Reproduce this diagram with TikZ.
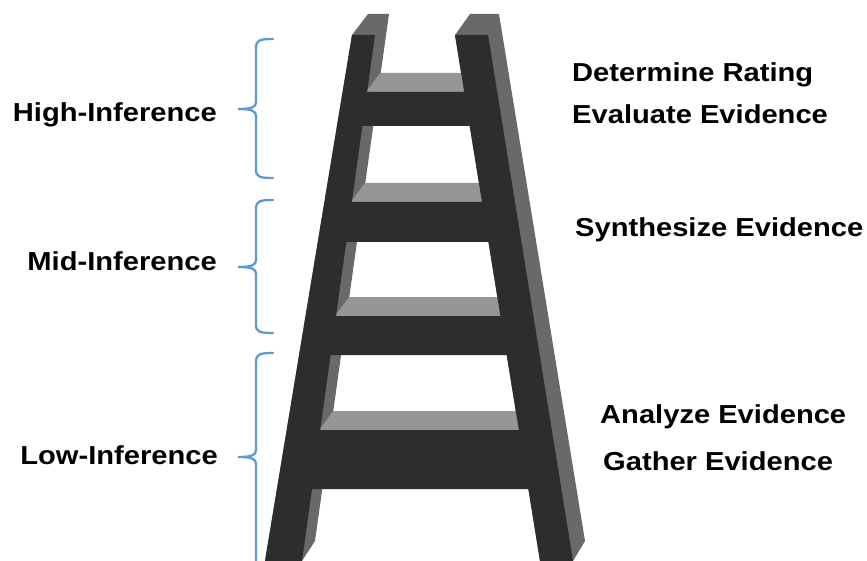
\documentclass[tikz,border=0pt]{standalone}
\usepackage{fontspec}
\newfontfamily\stepfont{Liberation Sans}[FakeStretch=1.12]
\usepackage{tikz}
\usetikzlibrary{positioning}

\definecolor{ladderfront}{RGB}{45,45,45}
\definecolor{railside}{RGB}{105,105,105}
\definecolor{rungtop}{RGB}{150,150,150}
\definecolor{bracecol}{RGB}{91,155,213}

\tikzset{
    ladder/.style = {fill=ladderfront},
    sideface/.style = {fill=railside},
    topface/.style = {fill=rungtop},
    infbrace/.style = {draw=bracecol, line width=2.3pt, line cap=round},
    level/.style = {inner sep=0pt, font=\stepfont\bfseries\fontsize{26}{30}\selectfont},
}

\begin{document}
\begin{tikzpicture} [x=1pt, y=-1pt]
    \useasboundingbox (0,0) rectangle (867,561);
    \clip (0,0) rectangle (867,561);

    % sides of the rails
    \fill [sideface] (352,35) -- (368,14) -- (389,14) -- (315,541) -- (302,561) -- (265,561) -- cycle;
    \fill [sideface] (455,35) -- (470,14) -- (499,14) -- (585,541) -- (573,561) -- (540,561) -- cycle;

    % tops of the rungs
    \foreach \t/\b in {92/126, 202/242, 316/355, 430/489} {
        \pgfmathsetmacro\la{375-0.13878*(\t-35)-1}
        \pgfmathsetmacro\ra{455+0.16160*(\t-35)+1}
        \fill [topface] (\la,\t) -- ++(14,-19) -- (\ra+13,\t-19) -- (\ra,\t) -- cycle;
    }

    % front of the ladder
    \fill [ladder] (352,35) -- (375,35) -- (302,561) -- (265,561) -- cycle;
    \fill [ladder] (455,35) -- (488,35) -- (573,561) -- (540,561) -- cycle;
    \foreach \t/\b in {92/126, 202/242, 316/355, 430/489} {
        \pgfmathsetmacro\la{375-0.13878*(\t-35)-1}
        \pgfmathsetmacro\lb{375-0.13878*(\b-35)-1}
        \pgfmathsetmacro\ra{455+0.16160*(\t-35)+1}
        \pgfmathsetmacro\rb{455+0.16160*(\b-35)+1}
        \fill [ladder] (\la,\t) -- (\ra,\t) -- (\rb,\b) -- (\lb,\b) -- cycle;
    }

    % braces
    \draw [infbrace] (273,39) .. controls (260,39) and (256,40) .. (256,48) -- (256,102)
        .. controls (256,107) and (252,109) .. (238,109) coordinate (hightip)
        .. controls (252,109) and (256,111) .. (256,116) -- (256,170)
        .. controls (256,177) and (260,178) .. (273,178);
    \draw [infbrace] (273,200) .. controls (260,200) and (256,201) .. (256,209) -- (256,260)
        .. controls (256,265) and (252,267) .. (238,267) coordinate (midtip)
        .. controls (252,267) and (256,269) .. (256,274) -- (256,325)
        .. controls (256,332) and (260,333) .. (273,333);
    \draw [infbrace] (273,353) .. controls (260,353) and (256,354) .. (256,362) -- (256,450)
        .. controls (256,455) and (252,457) .. (238,457) coordinate (lowtip)
        .. controls (252,457) and (256,459) .. (256,464) -- (256,560)
        .. controls (256,567) and (260,568) .. (273,568);

    % levels
    \node (high) [level, anchor=base east] at (217,122) {High-Inference};
    \node (mid) [level, anchor=base east] at (217,271) {Mid-Inference};
    \node (low) [level, anchor=base east] at (218,464) {Low-Inference};

    % steps
    \node (rating) [level, anchor=base west] at (572,81.7) {Determine Rating};
    \node (evaluate) [level, anchor=base west] at (572,123.3) {Evaluate Evidence};
    \node (synthesize) [level, anchor=base west] at (575,236.7) {Synthesize Evidence};
    \node (analyze) [level, anchor=base west] at (600,423.3) {Analyze Evidence};
    \node (gather) [level, anchor=base west] at (603,470) {Gather Evidence};

\end{tikzpicture}
\end{document}
